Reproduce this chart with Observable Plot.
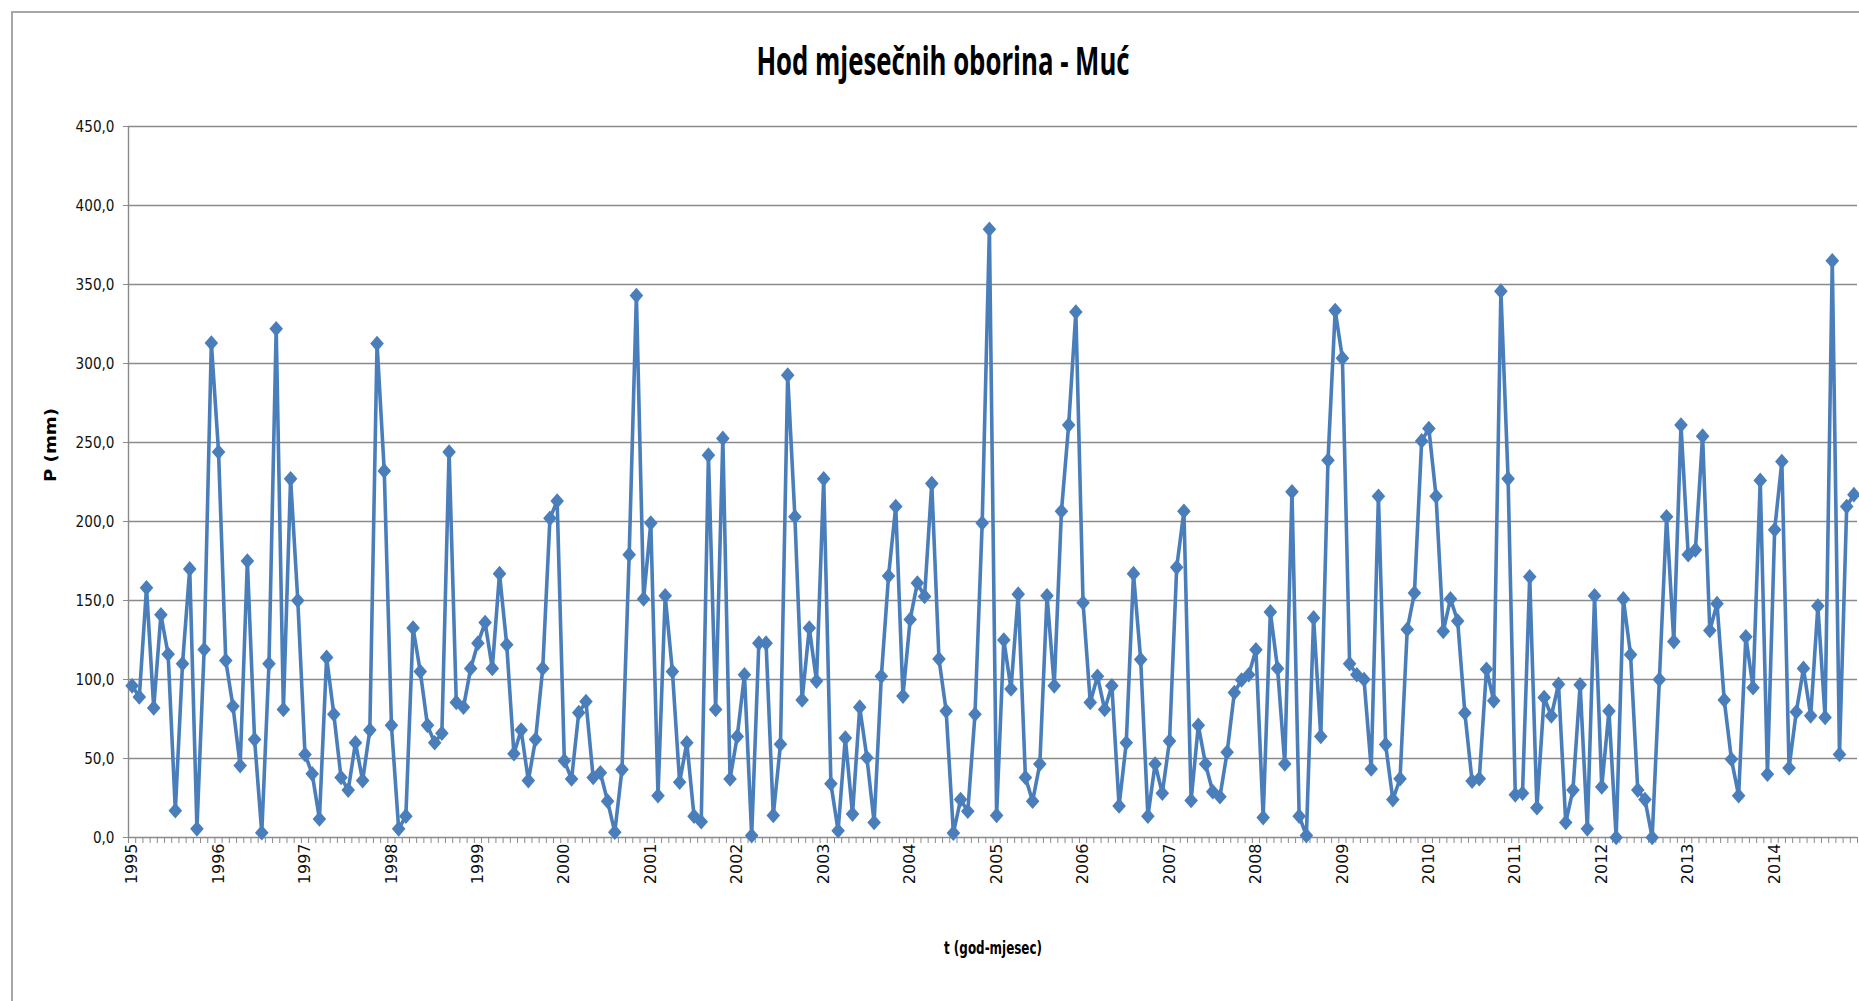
<!DOCTYPE html>
<html><head><meta charset="utf-8">
<script src="https://cdn.jsdelivr.net/npm/d3@7"></script>
<script src="https://cdn.jsdelivr.net/npm/@observablehq/plot@0.6"></script>
<style>
html,body{margin:0;padding:0;background:#fff;}
#wrap{position:relative;width:1859px;height:1001px;overflow:hidden;background:#fff;}
#frame{position:absolute;left:11px;top:11px;width:1900px;height:1100px;border-left:2px solid #a6a6a6;border-top:2px solid #a6a6a6;box-sizing:border-box;z-index:2;pointer-events:none;}
#title{position:absolute;left:0;top:0;width:1859px;height:100px;}
#tt{position:absolute;left:943px;top:59px;transform:translate(-50%,-50%) scaleX(.6);font:bold 40px "Open Sans";white-space:nowrap;color:#000;}
#chart{position:absolute;left:0;top:100px;z-index:1;}
</style></head>
<body><div id="wrap"><div id="frame"></div><div id="title"><span id="tt">Hod mjesečnih oborina - Muć</span></div><div id="chart"></div></div>
<script>
const years = ["1995","1996","1997","1998","1999","2000","2001","2002","2003","2004","2005","2006","2007","2008","2009","2010","2011","2012","2013","2014"];
const p1995 = [96, 89, 158, 82, 141, 116, 17, 110, 170, 5.5, 119, 313];
const p1996 = [244, 112, 83, 45.5, 175, 62, 3, 110, 322, 81, 227, 150];
const p1997 = [52.6, 40.3, 11.7, 114, 78, 38, 30, 60, 36, 68, 312.6, 232];
const p1998 = [71, 5.5, 13.5, 132.6, 105, 71, 60, 66, 244, 85.5, 82.5, 107];
const p1999 = [123, 136, 107, 167, 122, 53, 68, 36, 62, 107, 202, 213];
const p2000 = [48.6, 37, 79, 86, 38, 41, 23, 3.4, 43, 179, 343, 151];
const p2001 = [199, 26.5, 153, 105, 35, 60, 13.5, 10, 242, 81, 252.6, 37];
const p2002 = [64, 103, 1.2, 123, 123, 14, 59, 292.6, 203, 87, 132.6, 99];
const p2003 = [227, 34, 4.3, 63, 14.8, 82.5, 50.5, 9.5, 102, 165.5, 209.5, 89.5];
const p2004 = [138, 161, 152.6, 224, 113, 80, 2.8, 24, 16.6, 78, 199, 385];
const p2005 = [14, 125, 94, 154, 38, 23, 46.5, 153, 96, 206.5, 261, 332.6];
const p2006 = [148.6, 85.5, 102, 81, 96, 20, 60, 167, 112.6, 13.5, 46.5, 28];
const p2007 = [61, 171, 206.5, 23.4, 71, 46.5, 29, 25.8, 54, 91.7, 99.7, 103];
const p2008 = [118.8, 12.6, 142.8, 107, 46.5, 218.8, 13.5, 1.2, 139, 64, 238.8, 333.5];
const p2009 = [303.4, 110, 103, 100, 43.4, 216, 58.8, 24, 37.2, 131.7, 154.8, 251];
const p2010 = [258.8, 216, 130.5, 151, 137, 78.8, 35.7, 37.2, 106.5, 86.5, 345.8, 227];
const p2011 = [27, 28, 165, 18.8, 88.6, 77, 97, 9.5, 30, 96.6, 5.5, 153];
const p2012 = [32, 80, 0, 151, 115.7, 30, 24, 0, 100, 203, 124, 261];
const p2013 = [179, 182, 254, 131, 148, 87, 49.5, 26.5, 127, 94.8, 226, 40];
const p2014 = [194.8, 238, 44, 79.4, 107, 77, 146.5, 76, 365, 52.6, 209.5, 217];
const monthly = [p1995,p1996,p1997,p1998,p1999,p2000,p2001,p2002,p2003,p2004,p2005,p2006,p2007,p2008,p2009,p2010,p2011,p2012,p2013,p2014];
const yTicks = [0, 50, 100, 150, 200, 250, 300, 350, 400, 450];

const data = monthly.flatMap((vals, yi) => vals.map((p, m) => ({i: yi * 12 + m, year: years[yi], month: m + 1, p})));
const yearTicks = years.map((y, k) => k * 12);
const monthBounds = d3.range(-0.5, data.length, 1);

// fit title width
const tt = document.getElementById("tt");
const w0 = tt.offsetWidth;
tt.style.transform = `translate(-50%,-50%) scaleX(${373 / w0})`;

const diamond = {draw(ctx, size) {
  const r = Math.sqrt(size / Math.PI);
  ctx.moveTo(0, -r * 1.15); ctx.lineTo(r, 0); ctx.lineTo(0, r * 1.15); ctx.lineTo(-r, 0); ctx.closePath();
}};

const grey = "#8a8a8a";
const chart = Plot.plot({
  width: 1859, height: 901,
  marginTop: 26, marginBottom: 164, marginLeft: 128, marginRight: 2,
  style: {fontFamily: "DejaVu Sans", fontSize: "14px", color: "#111", background: "transparent", overflow: "visible"},
  x: {type: "linear", domain: [-0.5, data.length - 0.5]},
  y: {domain: [0, 450]},
  marks: [
    Plot.gridY(yTicks, {stroke: grey, strokeOpacity: 1, strokeWidth: 1.4}),
    Plot.ruleX([-0.5], {stroke: grey, strokeWidth: 1.4}),
    Plot.axisY(yTicks, {tickSize: 5, tickPadding: 9, fontSize: 16, className: "ylab", tickFormat: d => d.toFixed(1).replace(".", ","), stroke: grey, label: null}),
    Plot.axisX(monthBounds, {tickSize: 6, tickFormat: () => "", stroke: grey, label: null}),
    Plot.axisX(yearTicks, {tickSize: 0, tickPadding: 6, tickRotate: -90, fontSize: 16, tickFormat: i => years[i / 12], label: null}),
    Plot.line(data, {x: "i", y: "p", stroke: "#4a7ebb", strokeWidth: 3.6}),
    Plot.dot(data, {x: "i", y: "p", symbol: diamond, r: 6.8, fill: "#4a7ebb", stroke: "none"}),
    Plot.text(["P (mm)"], {frameAnchor: "left", dx: -78, rotate: -90, fontWeight: "bold", fontSize: 16, fill: "#000"}),
    Plot.text(["t (god-mjesec)"], {frameAnchor: "bottom", dy: 116, fontWeight: "bold", fontSize: 18, fill: "#000"})
  ]
});
document.getElementById("chart").appendChild(chart);
chart.querySelectorAll("text").forEach(t => {
  if (t.textContent === "t (god-mjesec)") { t.setAttribute("textLength", 98); t.setAttribute("lengthAdjust", "spacingAndGlyphs"); }
  if (t.textContent === "P (mm)") { t.setAttribute("textLength", 74); t.setAttribute("lengthAdjust", "spacingAndGlyphs"); }
});
// y tick labels are narrower in the reference
chart.querySelectorAll(".ylab text").forEach(t => {
  const len = t.getComputedTextLength();
  t.setAttribute("textLength", (len * 0.85).toFixed(1));
  t.setAttribute("lengthAdjust", "spacingAndGlyphs");
});
</script>
</body></html>
